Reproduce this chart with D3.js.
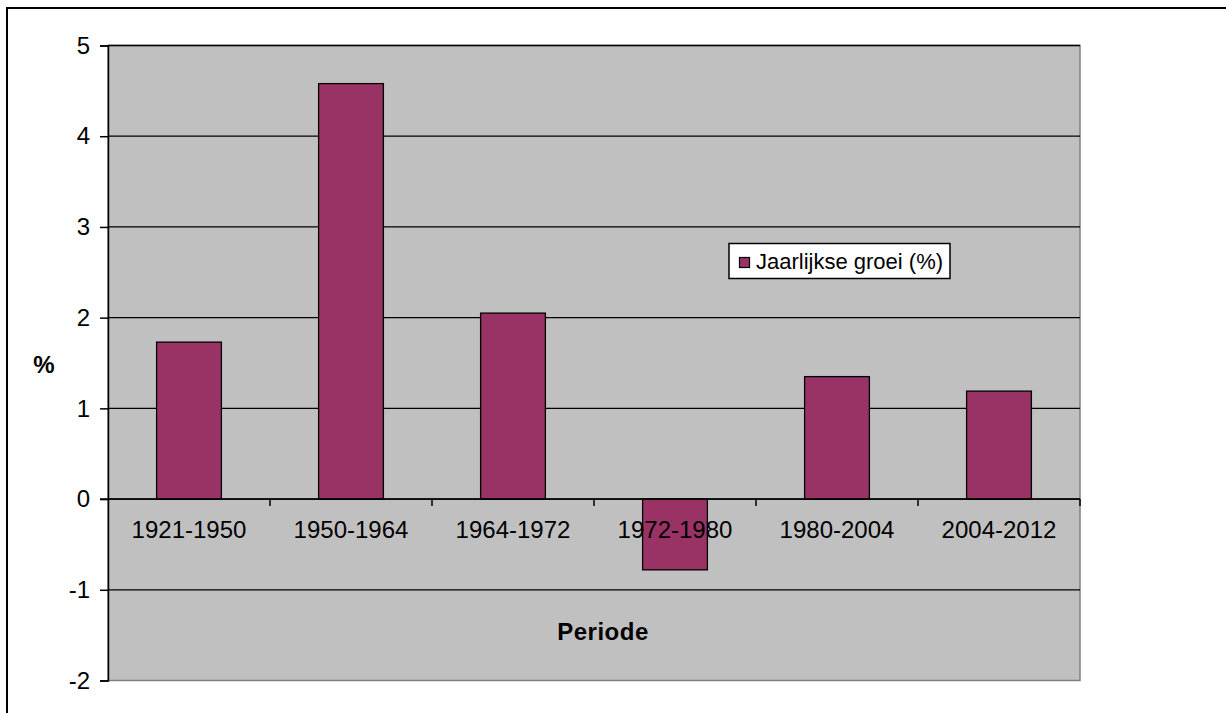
<!DOCTYPE html>
<html><head><meta charset="utf-8">
<script src="https://cdn.jsdelivr.net/npm/d3@7"></script>
<style>body{margin:0;background:#fff;} svg{display:block;font-family:Arial,"Liberation Sans",sans-serif;}</style>
</head><body>
<svg id="c" width="1226" height="713"></svg>
<script>
const categories = ["1921-1950","1950-1964","1964-1972","1972-1980","1980-2004","2004-2012"];
const values = [1.73, 4.58, 2.05, -0.78, 1.35, 1.19];
const yTicks = [-2,-1,0,1,2,3,4,5];
const seriesName = "Jaarlijkse groei (%)";
const xTitle = "Periode";
const yTitle = "%";

const svg = d3.select("#c");
const L = 108, R = 1080, T = 45.5, B = 680.5;
// outer chart border
svg.append("rect").attr("x",7).attr("y",8).attr("width",1240).attr("height",720)
  .attr("fill","#fff").attr("stroke","#000").attr("stroke-width",2);

const x = d3.scaleBand().domain(categories).range([L,R]).paddingInner(0.6).paddingOuter(0.3);
const xb = d3.scaleBand().domain(categories).range([L,R]);
const y = d3.scaleLinear().domain([-2,5]).range([B,T]);

svg.append("rect").attr("x",L).attr("y",T).attr("width",R-L).attr("height",B-T)
  .attr("fill","#c0c0c0").attr("stroke","#808080").attr("stroke-width",1.5);

// gridlines
svg.append("g").selectAll("line").data(yTicks.filter(d=>d!==-2)).join("line")
  .attr("x1",L).attr("x2",R).attr("y1",d=>y(d)).attr("y2",d=>y(d))
  .attr("stroke","#000").attr("stroke-width",1.3);

// bars
svg.append("g").selectAll("rect").data(values).join("rect")
  .attr("x",(d,i)=>x(categories[i]))
  .attr("width",x.bandwidth())
  .attr("y",d=>y(Math.max(0,d)))
  .attr("height",d=>Math.abs(y(d)-y(0)))
  .attr("fill","#993366").attr("stroke","#000").attr("stroke-width",1.3);

// y axis
const ya = d3.axisLeft(y).tickValues(yTicks).tickSize(8).tickPadding(10).tickFormat(d=>String(d));
const gy = svg.append("g").attr("transform",`translate(${L},0)`).call(ya);
gy.select(".domain").attr("stroke","#000").attr("stroke-width",1.5);
gy.selectAll(".tick line").attr("stroke","#000").attr("stroke-width",1.5);
gy.selectAll("text").attr("font-size",24).attr("fill","#000").attr("font-family","Arial,'Liberation Sans',sans-serif");

// x axis at zero
const boundaries = categories.map(c=>xb(c)).concat([R]);
svg.append("line").attr("x1",L-8).attr("x2",R).attr("y1",y(0)).attr("y2",y(0))
  .attr("stroke","#000").attr("stroke-width",1.5);
svg.append("g").selectAll("line").data(boundaries.slice(1)).join("line")
  .attr("x1",d=>d).attr("x2",d=>d).attr("y1",y(0)).attr("y2",y(0)+7)
  .attr("stroke","#000").attr("stroke-width",1.5);
svg.append("g").selectAll("text").data(categories).join("text")
  .attr("x",d=>xb(d)+xb.bandwidth()/2).attr("y",y(0)+39)
  .attr("text-anchor","middle").attr("font-size",24).attr("fill","#000").text(d=>d);

// titles
svg.append("text").attr("x",603).attr("y",640).attr("text-anchor","middle")
  .attr("font-size",24).attr("font-weight","bold").attr("letter-spacing",0.5).text(xTitle);
svg.append("text").attr("x",44).attr("y",373).attr("text-anchor","middle")
  .attr("font-size",24).attr("font-weight","bold").text(yTitle);

// legend
const lg = svg.append("g");
lg.append("rect").attr("x",729).attr("y",243.5).attr("width",221).attr("height",35)
  .attr("fill","#fff").attr("stroke","#000").attr("stroke-width",1.5);
lg.append("rect").attr("x",739.5).attr("y",257.5).attr("width",10).attr("height",10)
  .attr("fill","#993366").attr("stroke","#000").attr("stroke-width",1.2);
lg.append("text").attr("x",756).attr("y",269).attr("font-size",22).attr("fill","#000").text(seriesName);
</script>
</body></html>
